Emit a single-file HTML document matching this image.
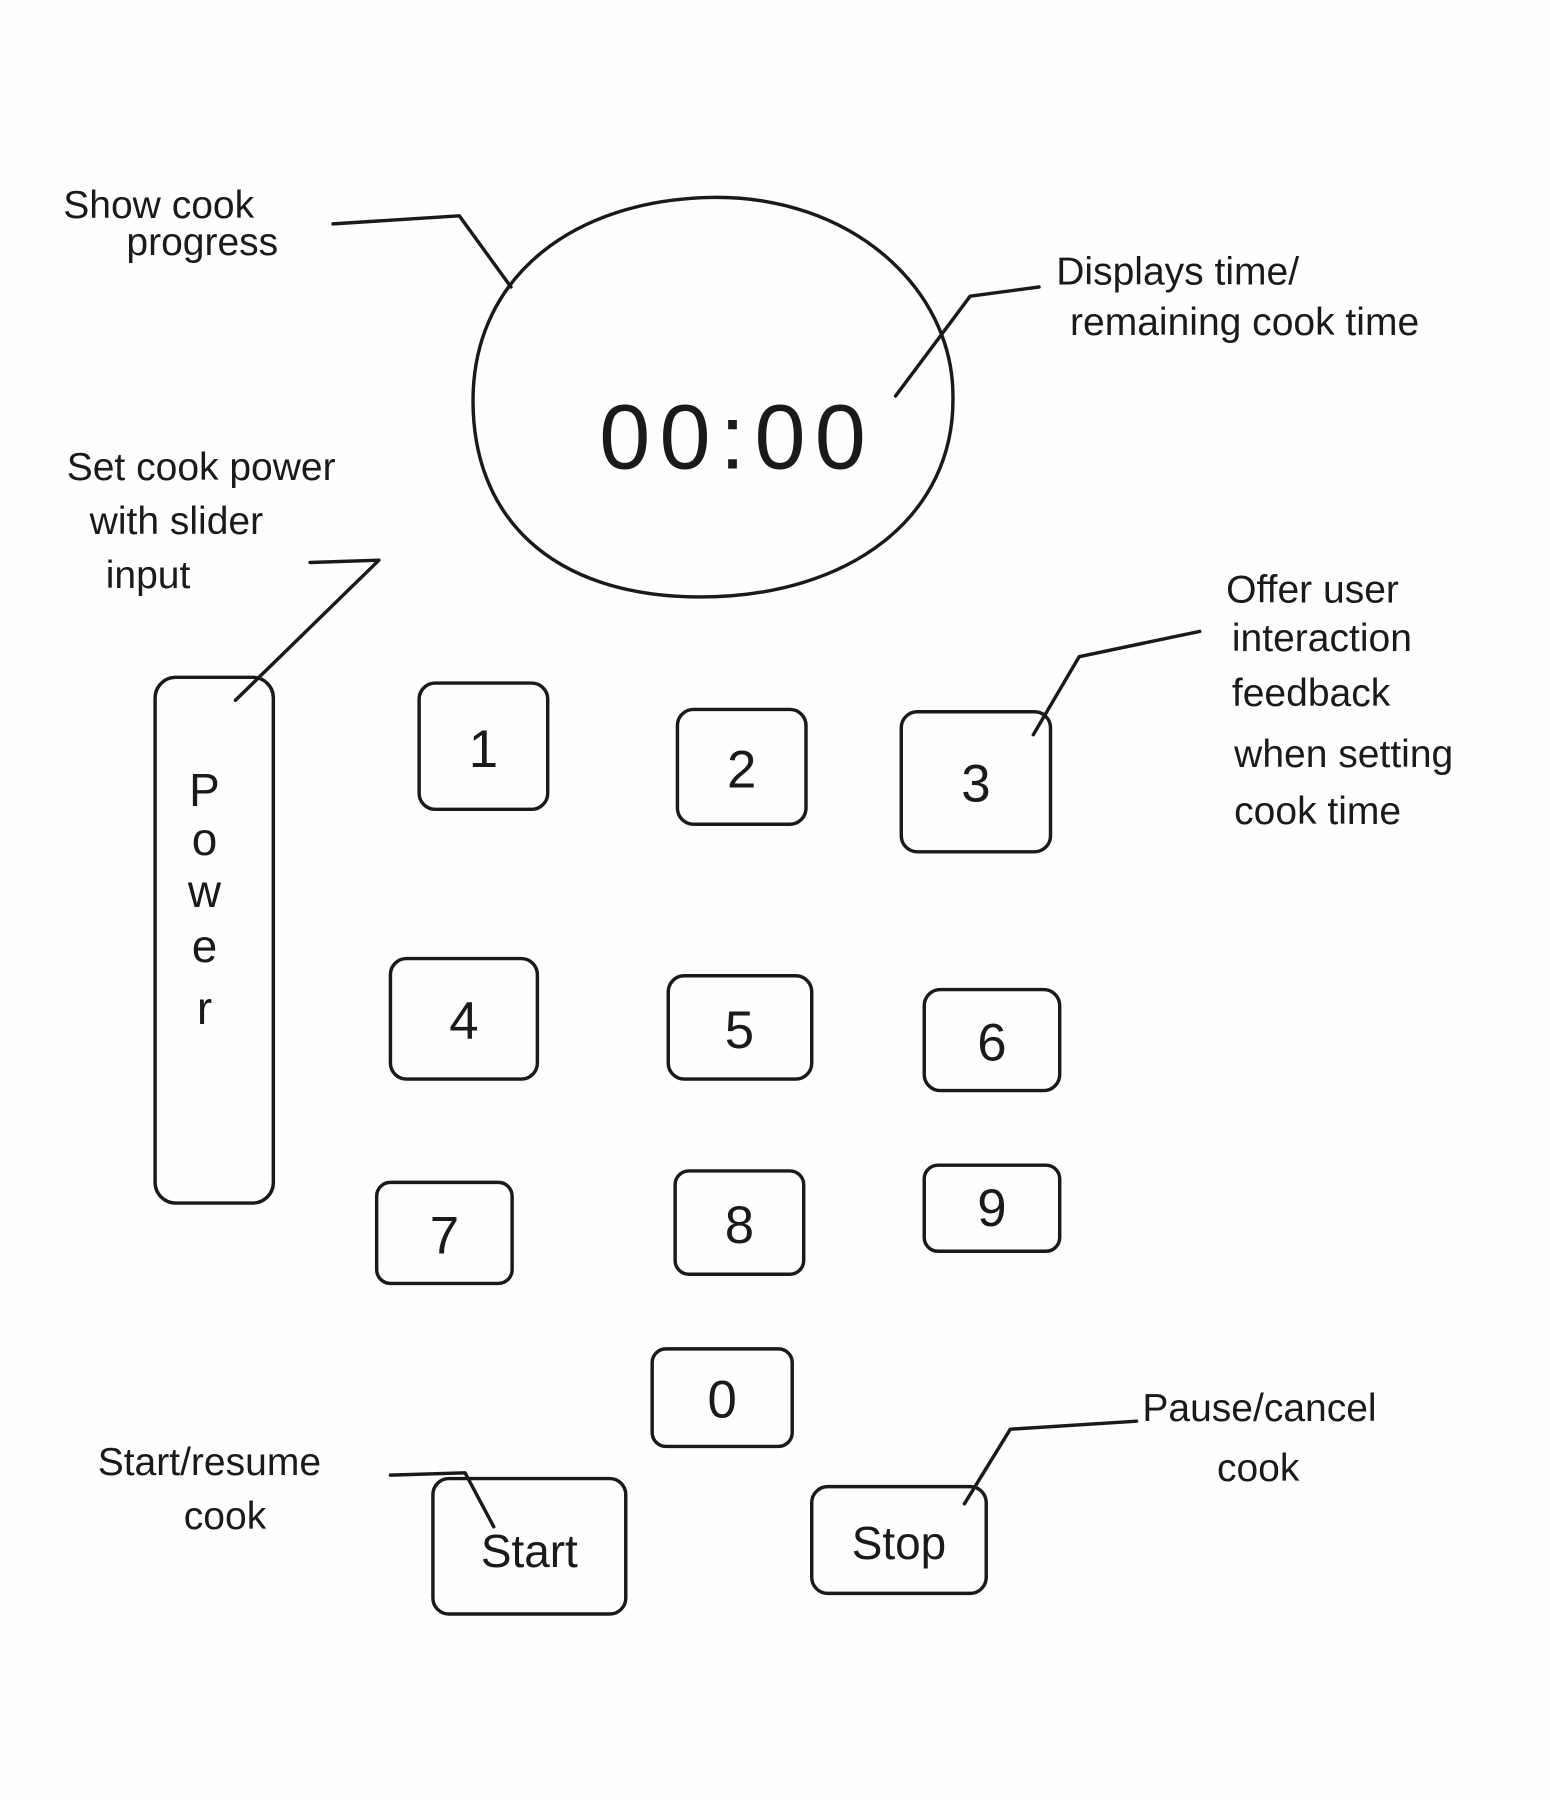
<!DOCTYPE html>
<html><head><meta charset="utf-8"><style>
html,body{margin:0;padding:0;background:#fefefe;}
svg{display:block;}
text{font-family:"Liberation Sans","DejaVu Sans",sans-serif;fill:#1a1a1a;}
</style></head><body>
<svg width="1550" height="1800" viewBox="0 0 1350 1568" xmlns="http://www.w3.org/2000/svg">
<rect width="1350" height="1568" fill="#fefefe"/>
<g fill="none" stroke="#1a1a1a" stroke-width="3" stroke-linecap="round" stroke-linejoin="round">
<path d="M620 172 C 740 170 830 250 830 345 C 832 450 740 520 610 520 C 480 520 410 450 412 345 C 414 240 500 174 620 172 Z"/>
<path d="M290 195 L400 188 L445 250"/>
<path d="M905 250 L845 258 L780 345"/>
<path d="M270 490 L330 488 L205 610"/>
<path d="M1045 550 L940 572 L900 640"/>
<path d="M340 1285 L405 1283 L430 1330"/>
<path d="M990 1238 L880 1245 L840 1310"/>
<rect x="135" y="590" width="103" height="458" rx="18"/>
<rect x="365" y="595" width="112" height="110" rx="14"/>
<rect x="590" y="618" width="112" height="100" rx="14"/>
<rect x="785" y="620" width="130" height="122" rx="14"/>
<rect x="340" y="835" width="128" height="105" rx="14"/>
<rect x="582" y="850" width="125" height="90" rx="14"/>
<rect x="805" y="862" width="118" height="88" rx="14"/>
<rect x="328" y="1030" width="118" height="88" rx="12"/>
<rect x="588" y="1020" width="112" height="90" rx="12"/>
<rect x="805" y="1015" width="118" height="75" rx="12"/>
<rect x="568" y="1175" width="122" height="85" rx="12"/>
<rect x="377" y="1288" width="168" height="118" rx="14"/>
<rect x="707" y="1295" width="152" height="93" rx="14"/>
</g>
<g font-size="34">
<text x="55" y="190">Show cook</text>
<text x="110" y="222">progress</text>
<text x="920" y="248">Displays time/</text>
<text x="932" y="292">remaining cook time</text>
<text x="58" y="418">Set cook power</text>
<text x="78" y="465">with slider</text>
<text x="92" y="512">input</text>
<text x="1068" y="525">Offer user</text>
<text x="1073" y="567">interaction</text>
<text x="1073" y="615">feedback</text>
<text x="1075" y="668">when setting</text>
<text x="1075" y="718">cook time</text>
<text x="85" y="1285">Start/resume</text>
<text x="160" y="1332">cook</text>
<text x="995" y="1238">Pause/cancel</text>
<text x="1060" y="1290">cook</text>
</g>
<text x="642" y="408" font-size="80" text-anchor="middle" letter-spacing="8">00:00</text>
<g font-size="40" text-anchor="middle">
<text x="178" y="702">P</text><text x="178" y="745">o</text><text x="178" y="790">w</text><text x="178" y="838">e</text><text x="178" y="892">r</text>
<text x="421" y="668" font-size="46">1</text>
<text x="646" y="686" font-size="46">2</text>
<text x="850" y="698" font-size="46">3</text>
<text x="404" y="905" font-size="46">4</text>
<text x="644" y="913" font-size="46">5</text>
<text x="864" y="924" font-size="46">6</text>
<text x="387" y="1092" font-size="46">7</text>
<text x="644" y="1083" font-size="46">8</text>
<text x="864" y="1068" font-size="46">9</text>
<text x="629" y="1235" font-size="46">0</text>
<text x="461" y="1365">Start</text>
<text x="783" y="1358">Stop</text>
</g>
</svg>
</body></html>
